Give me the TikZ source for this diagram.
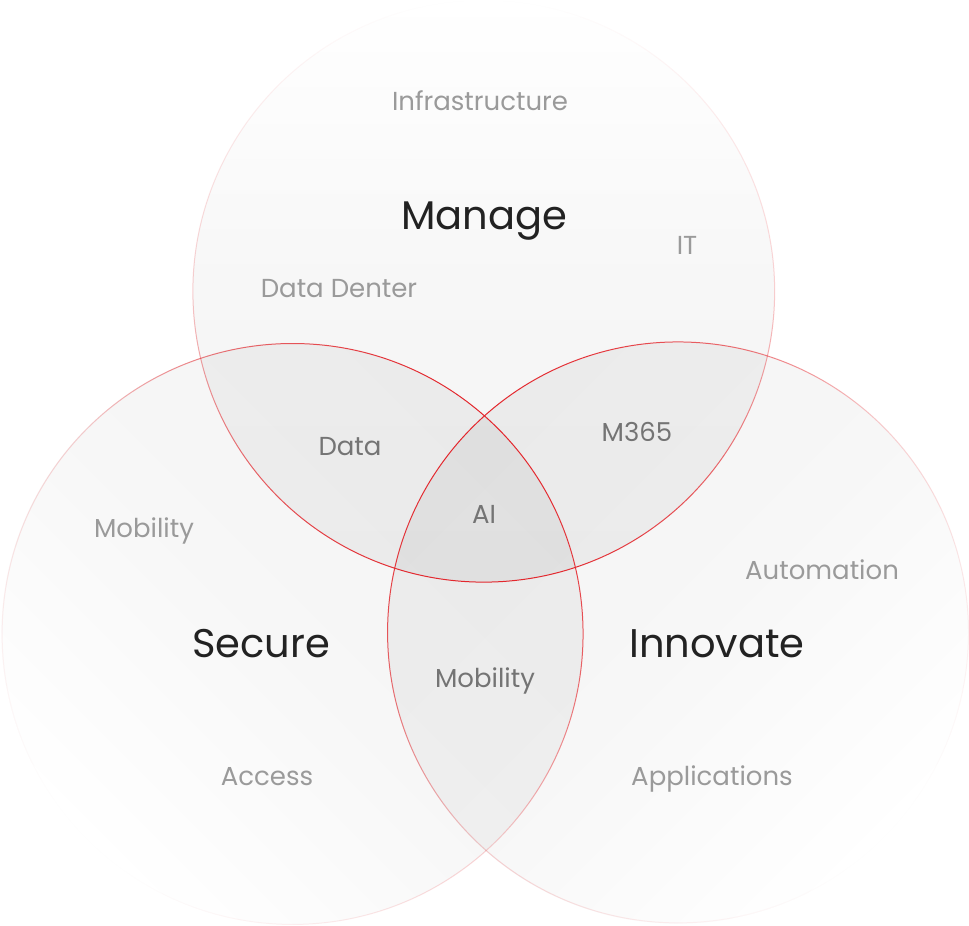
\documentclass[tikz,border=0pt]{standalone}
\usepackage{fontspec}
\setmainfont{Poppins}
\usetikzlibrary{fadings}
\tikzfading[name=fillfade, top color=transparent!100, bottom color=transparent!0, middle color=transparent!25]
\tikzfading[name=strokefade, top color=transparent!100, bottom color=transparent!0, middle color=transparent!78]
\definecolor{venred}{HTML}{E3262C}
\definecolor{titlecol}{HTML}{222222}
\definecolor{labelcol}{HTML}{9A9A9A}
\definecolor{lenscol}{HTML}{747474}
\begin{document}
\begin{tikzpicture}[x=1pt,y=1pt,
  circfill/.style={fill=black, fill opacity=0.045, path fading=fillfade},
  circline/.style={draw=venred, line width=1pt, path fading=strokefade},
  title/.style={text=titlecol, font=\fontsize{40}{42}\selectfont, anchor=base, inner sep=0pt},
  label/.style={text=labelcol, font=\fontsize{26}{28}\selectfont, anchor=base, inner sep=0pt},
  lens/.style={text=lenscol, font=\fontsize{26}{28}\selectfont, anchor=base, inner sep=0pt}]
\useasboundingbox (0,0) rectangle (969,926);
\fill[white] (0,0) rectangle (969,926);
% fills
\fill[circfill] (484,635) circle (291);
\fill[circfill, fading angle=135] (291,292) circle (291);
\fill[circfill, fading angle=-135] (678,292) circle (291);
% strokes
\draw[circline] (484,635) circle (291);
\draw[circline, fading angle=135] (291,292) circle (291);
\draw[circline, fading angle=-135] (678,292) circle (291);
% texts
\node[label] (infra) at (480,815) {Infrastructure};
\node[title] (manage) at (484,696) {Manage};
\node[label] (it) at (687,671) {IT};
\node[label] (dd) at (339,628) {Data Denter};
\node[lens] (data) at (350,470) {Data};
\node[lens] (m365) at (637,484) {M365};
\node[lens] (ai) at (484,402) {AI};
\node[label] (mob1) at (144,388) {Mobility};
\node[label] (auto) at (822,346) {Automation};
\node[title] (secure) at (261,268) {Secure};
\node[title] (innov) at (717,268) {Innovate};
\node[lens] (mob2) at (485,238) {Mobility};
\node[label] (access) at (267,140) {Access};
\node[label] (apps) at (712,140) {Applications};
\end{tikzpicture}
\end{document}
